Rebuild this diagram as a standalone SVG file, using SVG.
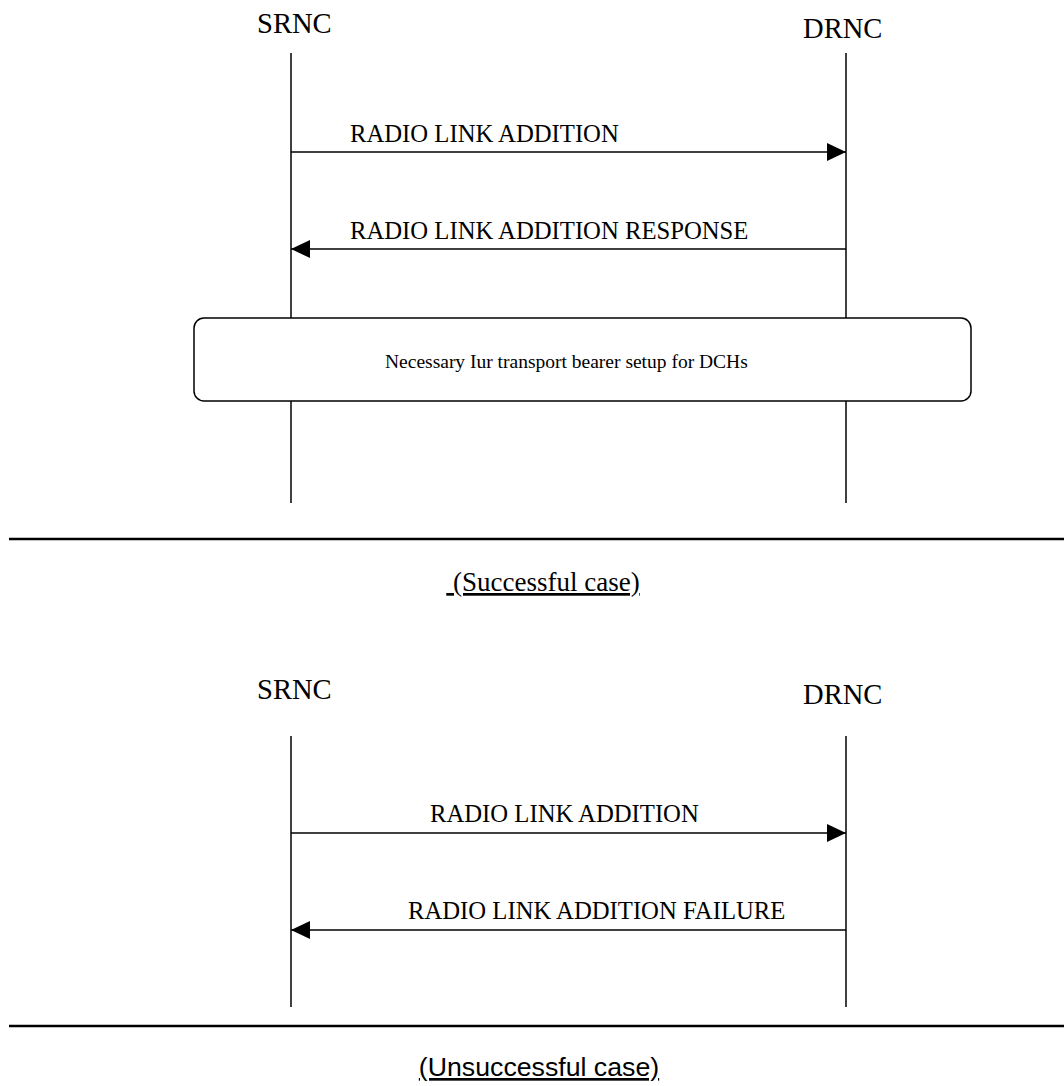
<svg xmlns="http://www.w3.org/2000/svg" width="1064" height="1086" viewBox="0 0 1064 1086">
<style>
.lbl{font-family:"Liberation Serif","Times New Roman",serif;fill:#000}
.ent{font-size:28.6px}
.msg{font-size:24.7px}
.life{stroke:#000;stroke-width:1.5;fill:none}
.arr{stroke:#000;stroke-width:1.5;fill:none}
.sep{stroke:#000;stroke-width:2.5}
</style>
<defs>
<marker id="ah" viewBox="0 0 19 18" refX="19" refY="9" markerWidth="19" markerHeight="18" markerUnits="userSpaceOnUse" orient="auto">
<path d="M0,0 L19,9 L0,18 Z" fill="#000"/>
</marker>
</defs>
<rect width="1064" height="1086" fill="#fff"/>
<g id="srnc1"><text class="lbl ent" x="257" y="33">SRNC</text><line class="life" x1="291" y1="53" x2="291" y2="318"/><line class="life" x1="291" y1="401" x2="291" y2="503"/></g>
<g id="drnc1"><text class="lbl ent" x="803" y="38">DRNC</text><line class="life" x1="846" y1="53" x2="846" y2="318"/><line class="life" x1="846" y1="401" x2="846" y2="503"/></g>
<g id="bearer"><rect x="194" y="318" width="777" height="83" rx="10" ry="10" fill="#fff" stroke="#000" stroke-width="1.5"/><text class="lbl" font-size="19.5" x="385" y="368">Necessary Iur transport bearer setup for DCHs</text></g>
<g id="connectors1">
<line class="arr" x1="291" y1="152" x2="846" y2="152" marker-end="url(#ah)"/>
<text class="lbl msg" x="350" y="142">RADIO LINK ADDITION</text>
<line class="arr" x1="846" y1="249" x2="291" y2="249" marker-end="url(#ah)"/>
<text class="lbl msg" x="350" y="239">RADIO LINK ADDITION RESPONSE</text>
</g>
<line class="sep" x1="9" y1="539" x2="1064" y2="539"/>
<text class="lbl" font-size="27" x="543" y="591" text-anchor="middle" text-decoration="underline" xml:space="preserve"> (Successful case)</text>
<g id="srnc2"><text class="lbl ent" x="257" y="699">SRNC</text><line class="life" x1="291" y1="736" x2="291" y2="1007"/></g>
<g id="drnc2"><text class="lbl ent" x="803" y="704">DRNC</text><line class="life" x1="846" y1="736" x2="846" y2="1007"/></g>
<g id="connectors2">
<line class="arr" x1="291" y1="833" x2="846" y2="833" marker-end="url(#ah)"/>
<text class="lbl msg" x="430" y="822">RADIO LINK ADDITION</text>
<line class="arr" x1="846" y1="930" x2="291" y2="930" marker-end="url(#ah)"/>
<text class="lbl msg" x="408" y="919">RADIO LINK ADDITION FAILURE</text>
</g>
<line class="sep" x1="9" y1="1026" x2="1064" y2="1026"/>
<text font-family="'Liberation Sans',Arial,sans-serif" font-size="26.7" x="539" y="1076" text-anchor="middle" text-decoration="underline">(Unsuccessful case)</text>
</svg>
